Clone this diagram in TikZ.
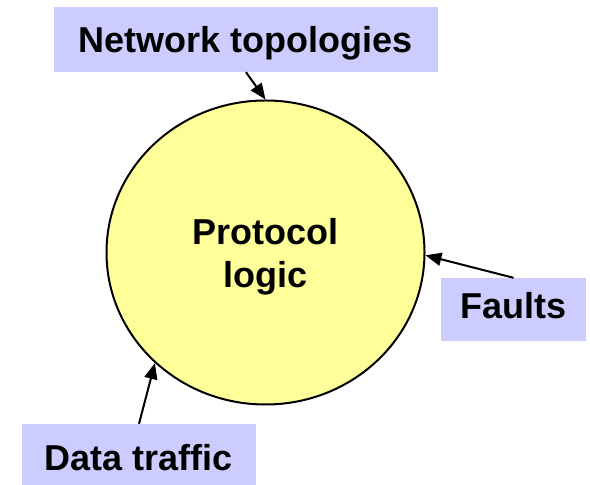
\documentclass[tikz,border=0pt]{standalone}
\usepackage{fontspec}
\setmainfont{Liberation Sans}
\usepackage{tikz}
\usetikzlibrary{shapes}
\usetikzlibrary{arrows.meta}
\definecolor{boxblue}{HTML}{CCCCFF}
\definecolor{discyellow}{HTML}{FFFF99}
\tikzset{
  bigtext/.style={font=\fontsize{36bp}{43bp}\selectfont\bfseries},
  labelbox/.style={bigtext, fill=boxblue, inner sep=0pt, text height=26bp, text depth=0bp},
  feed/.style={-{Triangle[length=16bp,width=13bp]}, line width=2bp},
}
\begin{document}
\begin{tikzpicture}[x=1bp,y=1bp]
\useasboundingbox (0,0) rectangle (590,485);
\node[ellipse, draw, line width=2bp, fill=discyellow, minimum width=318bp, minimum height=304bp, inner sep=0pt, align=center, bigtext, text depth=0bp] (logic) at (265.5,232.5) {Protocol\\logic};
\node[labelbox, minimum width=384bp, minimum height=65bp] (topo) at (246,445.5) {Network topologies};
\node[labelbox, minimum width=145bp, minimum height=63bp, text depth=7bp] (faults) at (513.5,175.5) {Faults};
\node[labelbox, minimum width=234bp, minimum height=61bp, text height=33bp] (data) at (139,30.5) {Data traffic};
\draw[feed] (topo.south) -- (logic.north);
\draw[feed] (faults.north) -- (logic.-1);
\draw[feed] (data.north) -- (logic.225);
\end{tikzpicture}
\end{document}
